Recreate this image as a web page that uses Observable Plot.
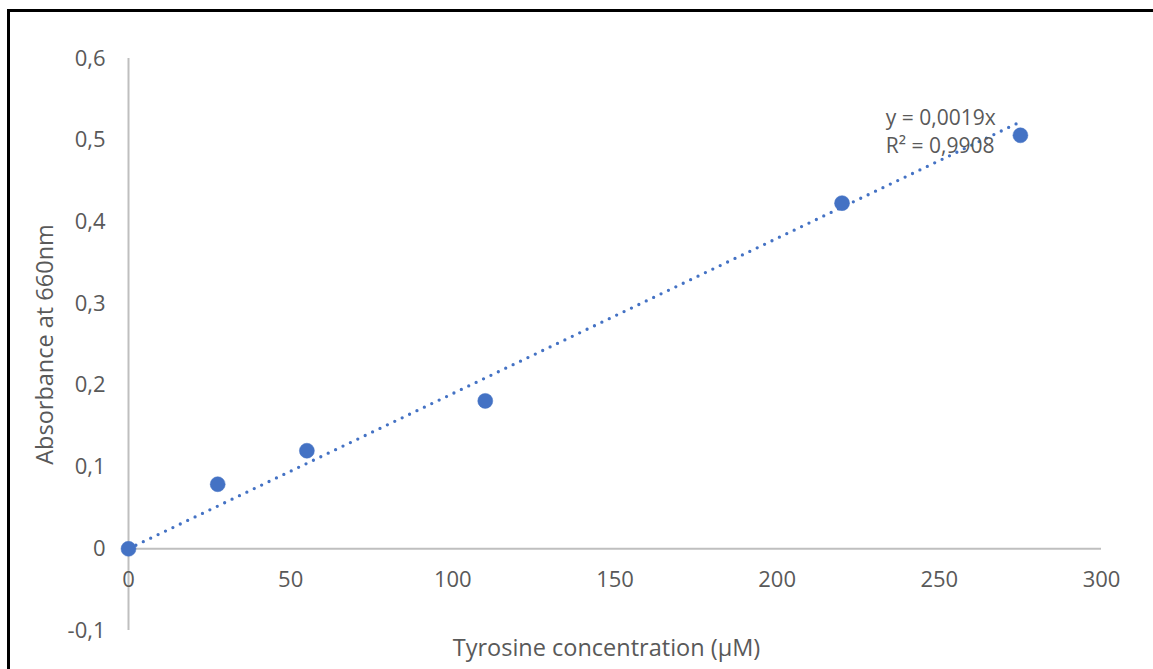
<!DOCTYPE html>
<html>
<head>
<meta charset="utf-8">
<script src="https://cdn.jsdelivr.net/npm/d3@7"></script>
<script src="https://cdn.jsdelivr.net/npm/@observablehq/plot@0.6"></script>
<style>
  html, body { margin: 0; padding: 0; background: #fff; overflow: hidden; }
  #wrap { position: relative; width: 1153px; height: 669px; overflow: hidden; }
  #frame { position: absolute; left: 7px; top: 9px; width: 2000px; height: 2000px;
           border: 3px solid #000; box-sizing: border-box; }
  #chart { position: absolute; left: 0; top: 0; }
</style>
</head>
<body>
<div id="wrap">
  <div id="frame"></div>
  <div id="chart"></div>
</div>
<script>
// Tyrosine standard curve: concentration (µM) vs absorbance at 660 nm
const concentration = [0, 27.5, 55, 110, 220, 275];
const absorbance = [0, 0.079, 0.12, 0.181, 0.423, 0.506];

// Linear fit through the origin, as reported on the chart
const slope = 0.0019;
const rSquared = 0.9908;

const xTicks = [0, 50, 100, 150, 200, 250, 300];
const yTicks = [-0.1, 0, 0.1, 0.2, 0.3, 0.4, 0.5, 0.6];

const points = concentration.map((c, i) => ({x: c, y: absorbance[i]}));
const fitExtent = [0, d3.max(concentration)];
const fitLine = fitExtent.map(x => ({x, y: slope * x}));

const comma = v => String(v).replace(".", ",");
const blue = "#4472C4";
const grey = "#595959";
const axisGrey = "#BFBFBF";
const font = "'Open Sans', sans-serif";

const chart = Plot.plot({
  width: 1153,
  height: 669,
  marginLeft: 128,
  marginRight: 52,
  marginTop: 58,
  marginBottom: 39,
  style: {fontFamily: font, fontSize: "20px", color: grey, background: "transparent"},
  x: {domain: [0, 300], axis: null},
  y: {domain: [-0.1, 0.6], axis: null},
  marks: [
    // axis lines crossing at the origin
    Plot.ruleY([0], {x1: 0, x2: 300, stroke: axisGrey, strokeWidth: 2}),
    Plot.ruleX([0], {y1: -0.1, y2: 0.6, stroke: axisGrey, strokeWidth: 2}),
    // y tick labels
    Plot.text(yTicks, {x: 0, y: d => d, text: comma, textAnchor: "end", dx: -23,
      fill: grey, fontSize: 22}),
    // x tick labels, hung below the zero line
    Plot.text(xTicks, {x: d => d, y: 0, text: comma, dy: 31,
      fill: grey, fontSize: 22}),
    // dotted trendline
    Plot.line(fitLine, {x: "x", y: "y", stroke: blue, strokeWidth: 3.3,
      strokeDasharray: "0 8.2", strokeLinecap: "round"}),
    // measured points
    Plot.dot(points, {x: "x", y: "y", r: 7.5, fill: blue, stroke: blue, strokeWidth: 0.5}),
    // regression equation
    Plot.text([`y = ${comma(slope)}x\nR² = ${comma(rSquared)}`], {
      x: 233.5, y: 0.512, textAnchor: "start", lineHeight: 1.33,
      fill: grey, fontSize: 21}),
    // axis titles
    Plot.text(["Absorbance at 660nm"], {frameAnchor: "left", dx: -83, rotate: -90,
      textAnchor: "middle", lineAnchor: "middle", fill: grey, fontSize: 23.5}),
    Plot.text(["Tyrosine concentration (µM)"], {frameAnchor: "bottom", dx: -8.5, dy: 18,
      textAnchor: "middle", lineAnchor: "middle", fill: grey, fontSize: 23.5})
  ]
});

document.getElementById("chart").appendChild(chart);
</script>
</body>
</html>
